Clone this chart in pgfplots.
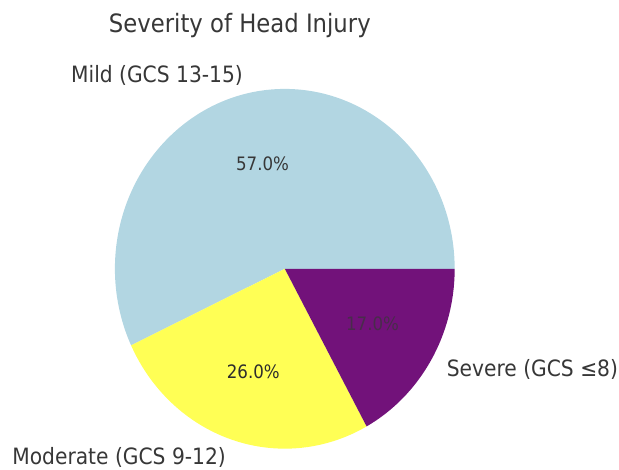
\documentclass[border=0pt]{standalone}
\usepackage{pgfplots}
\pgfplotsset{compat=1.18}
\usetikzlibrary{calc}
\usepackage{fontspec}
\setmainfont{DejaVu Sans}[FakeStretch=0.9]
\definecolor{cMild}{RGB}{178,214,226}
\definecolor{cMod}{RGB}{255,255,85}
\definecolor{cSev}{RGB}{114,18,122}
\definecolor{txt}{RGB}{55,55,55}
\begin{document}
\begin{tikzpicture}
% data (percent)
\def\vMild{57}
\def\vMod{26}
\def\vSev{17}
\pgfmathsetmacro{\tot}{\vMild+\vMod+\vSev}
\pgfmathsetmacro{\aA}{\vMild/\tot*360}
\pgfmathsetmacro{\aB}{\aA+\vMod/\tot*360}
\pgfmathsetmacro{\mA}{\aA/2}
\pgfmathsetmacro{\mB}{(\aA+\aB)/2}
\pgfmathsetmacro{\mC}{(\aB+360)/2}
\begin{axis}[
  width=619pt, height=470pt, scale only axis,
  xmin=0, xmax=619, ymin=0, ymax=470,
  enlargelimits=false, hide axis, clip=false,
]
\path (axis cs:0,0) rectangle (axis cs:619,470);
\fill[cMild] (axis cs:285,201) -- ++(0:170pt and 180pt) arc[start angle=0, end angle=\aA, x radius=170pt, y radius=180pt] -- cycle;
\fill[cMod] (axis cs:285,201) -- ++(\aA:170pt and 180pt) arc[start angle=\aA, end angle=\aB, x radius=170pt, y radius=180pt] -- cycle;
\fill[cSev] (axis cs:285,201) -- ++(\aB:170pt and 180pt) arc[start angle=\aB, end angle=360, x radius=170pt, y radius=180pt] -- cycle;
% percentages
\node[txt, font=\fontsize{18.5}{20}\selectfont] at ($(axis cs:285,201)+(\mA:102pt and 108pt)$) {57.0\%};
\node[txt!80!black, font=\fontsize{18.5}{20}\selectfont] at ($(axis cs:285,201)+(\mB:102pt and 108pt)$) {26.0\%};
\node[txt!70!cSev, font=\fontsize{18.5}{20}\selectfont] at ($(axis cs:285,201)+(\mC:102pt and 108pt)$) {17.0\%};
% labels
\node[txt, anchor=east, inner sep=1pt, font=\fontsize{22.5}{24}\selectfont] at ($(axis cs:285,201)+(\mA:187pt and 198pt)$) {Mild (GCS 13-15)};
\node[txt, anchor=east, inner sep=1pt, font=\fontsize{22.5}{24}\selectfont] at ($(axis cs:285,201)+(\mB:187pt and 198pt)$) {Moderate (GCS 9-12)};
\node[txt, anchor=west, inner sep=1pt, font=\fontsize{22.5}{24}\selectfont] at ($(axis cs:285,201)+(\mC:187pt and 198pt)$) {Severe (GCS ≤8)};
% title
\node[txt, anchor=base, font=\fontsize{25.3}{28}\selectfont] at (axis cs:240,437) {Severity of Head Injury};
\end{axis}
\end{tikzpicture}
\end{document}
